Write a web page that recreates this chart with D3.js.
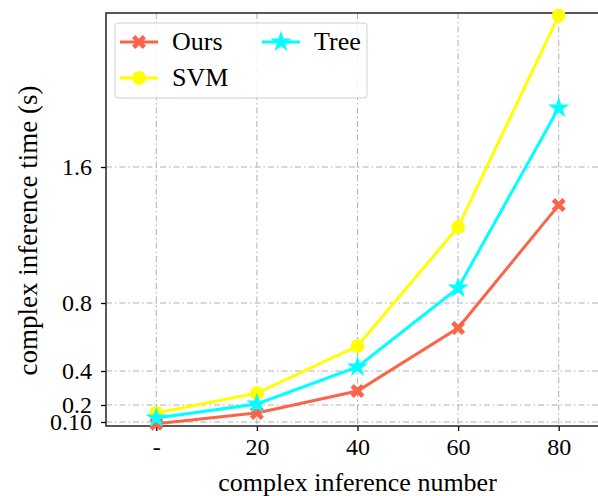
<!DOCTYPE html>
<html lang="en">
<head>
<meta charset="UTF-8">
<title>Complex inference time</title>
<script src="https://cdnjs.cloudflare.com/ajax/libs/d3/7.8.5/d3.min.js"></script>
<style>
    body { margin: 0; background: #fff; }
    svg { display: block; font-family: 'Liberation Serif', 'DejaVu Serif', serif; }
    .grid line { stroke: #b0b0b0; stroke-width: 1; stroke-dasharray: 6 3 1.5 3; }
</style>
</head>
<body>
<div id="chart"></div>
<script>
    // Data
    const xLabels = ["-", "20", "40", "60", "80"];
    const ours = [0.09, 0.153, 0.282, 0.653, 1.376];
    const svm = [0.153, 0.27, 0.547, 1.247, 2.49];
    const tree = [0.124, 0.206, 0.424, 0.888, 1.947];
    const yTicks = [0.1, 0.2, 0.4, 0.8, 1.6];
    const yTickLabels = ["0.10", "0.2", "0.4", "0.8", "1.6"];

    const series = [
        { name: "Ours", values: ours, color: "#fa6449", marker: "cross" },
        { name: "SVM", values: svm, color: "#ffff00", marker: "circle" },
        { name: "Tree", values: tree, color: "#00ffff", marker: "star" }
    ];

    const W = 598, H = 496;
    const margin = { top: 13, right: -11, bottom: 70, left: 106 };
    const width = W - margin.left - margin.right;
    const height = H - margin.top - margin.bottom;

    const svg = d3.select("#chart").append("svg")
        .attr("width", W).attr("height", H);
    const g = svg.append("g").attr("transform", `translate(${margin.left},${margin.top})`);

    const x = d3.scaleLinear().domain([-0.5, xLabels.length - 0.5]).range([0, width]);
    const y = d3.scaleLinear().domain([0.0765, 2.506]).range([height, 0]);

    // grid
    const grid = g.append("g").attr("class", "grid");
    grid.selectAll(".gx").data(xLabels.map((d, i) => i)).enter().append("line")
        .attr("x1", d => x(d)).attr("x2", d => x(d)).attr("y1", 0).attr("y2", height);
    grid.selectAll(".gy").data(yTicks).enter().append("line")
        .attr("x1", 0).attr("x2", width).attr("y1", d => y(d)).attr("y2", d => y(d));

    // axes
    const xAxis = g.append("g").attr("transform", `translate(0,${height})`)
        .call(d3.axisBottom(x).tickValues(xLabels.map((d, i) => i))
            .tickFormat((d, i) => xLabels[i]).tickSize(5).tickPadding(7));
    const yAxis = g.append("g")
        .call(d3.axisLeft(y).tickValues(yTicks)
            .tickFormat((d, i) => yTickLabels[i]).tickSize(5).tickPadding(9));
    [xAxis, yAxis].forEach(a => {
        a.selectAll("text").attr("font-size", 24).attr("fill", "#000")
            .attr("font-family", "'Liberation Serif', serif");
        a.selectAll("line").attr("stroke", "#000").attr("stroke-width", 1.3);
        a.select(".domain").remove();
    });

    // frame
    g.append("rect").attr("x", 0).attr("y", 0).attr("width", width).attr("height", height)
        .attr("fill", "none").attr("stroke", "#222").attr("stroke-width", 1.5);

    // markers
    const star = d3.symbol().type(d3.symbolStar).size(140);
    const circ = d3.symbol().type(d3.symbolCircle).size(150);
    function crossPath(s) {
        const a = s * 0.5, b = s * 0.24;
        // thick X built from polygon
        const pts = [[-a, -a + b], [-a + b, -a], [0, -b], [a - b, -a], [a, -a + b], [b, 0],
            [a, a - b], [a - b, a], [0, b], [-a + b, a], [-a, a - b], [-b, 0]];
        return "M" + pts.map(p => p.join(",")).join("L") + "Z";
    }
    function drawMarker(sel, type, color) {
        if (type === "cross") sel.append("path").attr("d", crossPath(14)).attr("fill", color);
        else if (type === "circle") sel.append("path").attr("d", circ()).attr("fill", color);
        else sel.append("path").attr("d", star()).attr("fill", color);
    }

    const line = d3.line().x((d, i) => x(i)).y(d => y(d));
    series.forEach(s => {
        g.append("path").datum(s.values).attr("d", line)
            .attr("fill", "none").attr("stroke", s.color).attr("stroke-width", 3);
        s.values.forEach((v, i) => {
            const m = g.append("g").attr("transform", `translate(${x(i)},${y(v)})`);
            drawMarker(m, s.marker, s.color);
        });
    });

    // axis labels
    svg.append("text").attr("x", margin.left + width / 2).attr("y", 491)
        .attr("text-anchor", "middle").attr("font-size", 26).text("complex inference number");
    svg.append("text").attr("transform", `translate(37,${margin.top + height / 2 + 11}) rotate(-90)`)
        .attr("text-anchor", "middle").attr("font-size", 27).text("complex inference time (s)");

    // legend
    const lg = svg.append("g").attr("transform", "translate(115,23)");
    lg.append("rect").attr("width", 252).attr("height", 75).attr("rx", 3)
        .attr("fill", "#fff").attr("fill-opacity", 0.85)
        .attr("stroke", "#d0d0d0").attr("stroke-width", 1);
    const pos = [[5, 19], [5, 55], [147, 19]];
    series.forEach((s, i) => {
        const e = lg.append("g").attr("transform", `translate(${pos[i][0]},${pos[i][1]})`);
        e.append("line").attr("x1", 0).attr("x2", 38).attr("stroke", s.color).attr("stroke-width", 3);
        drawMarker(e.append("g").attr("transform", "translate(19,0)"), s.marker, s.color);
        e.append("text").attr("x", 52).attr("y", 8).attr("font-size", 26).text(s.name);
    });
</script>
</body>
</html>
